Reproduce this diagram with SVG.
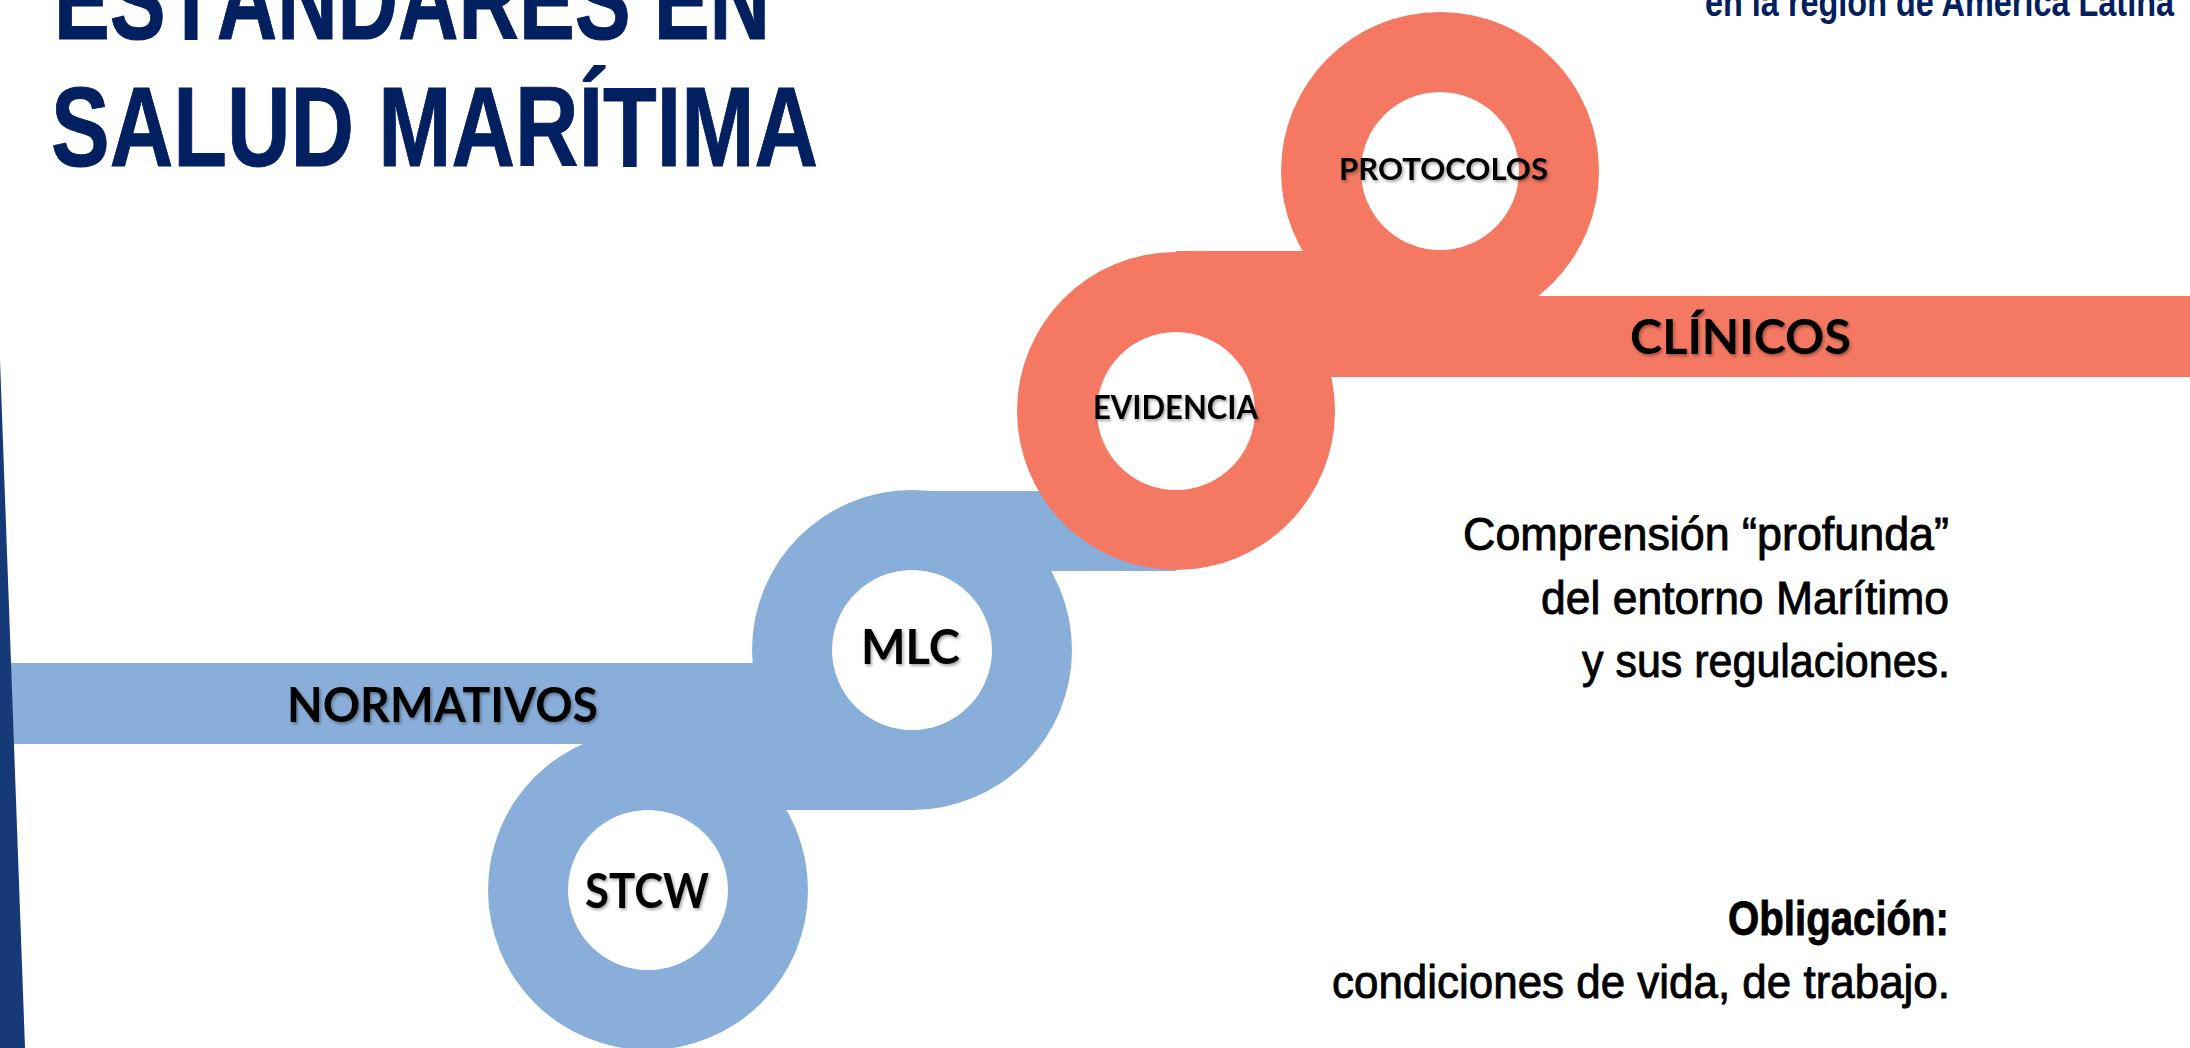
<svg xmlns="http://www.w3.org/2000/svg" width="2190" height="1048" viewBox="0 0 2190 1048">
  <defs>
    <style>
      .blue { fill: #89AED9; }
      .salmon { fill: #F57862; }
      .hole { fill: #FFFFFF; }
      .title { font-family: "Liberation Sans Narrow", "Liberation Sans", Arial, sans-serif; font-weight: 700; fill: #022060; stroke: #022060; stroke-width: 1; }
      .sub { font-family: "Liberation Sans Narrow", "Liberation Sans", Arial, sans-serif; font-weight: 700; fill: #022060; }
      .lbl { font-family: Lato, "Noto Sans", "DejaVu Sans", sans-serif; font-weight: 700; fill: #000000; filter: url(#shadow); }
      .body { font-family: "Liberation Sans Narrow", "Liberation Sans", Arial, sans-serif; fill: #000000; stroke: #000000; stroke-width: 0.9; }
    </style>
    <filter id="shadow" x="-10%" y="-30%" width="120%" height="160%">
      <feDropShadow dx="1.5" dy="2" stdDeviation="1.5" flood-color="#000000" flood-opacity="0.35"/>
    </filter>
  </defs>
  <rect x="0" y="0" width="2190" height="1048" fill="#FFFFFF"/>

  <!-- Title -->
  <g id="title">
    <text class="title" x="54" y="39" font-size="114" textLength="716" lengthAdjust="spacingAndGlyphs">ESTÁNDARES EN</text>
    <text class="title" x="51" y="166" font-size="114" textLength="767" lengthAdjust="spacingAndGlyphs">SALUD MARÍTIMA</text>
  </g>
  <g id="subtitle">
    <text class="sub" x="1705" y="16" font-size="40" textLength="469" lengthAdjust="spacingAndGlyphs">en la región de América Latina</text>
  </g>

  <!-- Connectors (ribbon bands) -->
  <g id="connectors">
    <rect class="blue" x="0" y="663" width="800" height="81"/>
    <rect class="blue" x="648" y="730" width="264" height="80"/>
    <rect class="blue" x="912" y="491" width="264" height="80"/>
    <rect class="salmon" x="1176" y="251" width="264" height="80"/>
    <rect class="salmon" x="1300" y="296" width="890" height="81"/>
  </g>

  <!-- Nodes -->
  <g id="node-stcw">
    <circle class="blue" cx="648" cy="890" r="160"/>
    <circle class="hole" cx="648" cy="890" r="80"/>
    <text class="lbl" x="585" y="908" font-size="47" textLength="124" lengthAdjust="spacingAndGlyphs">STCW</text>
  </g>
  <g id="node-mlc">
    <circle class="blue" cx="912" cy="650" r="160"/>
    <circle class="hole" cx="912" cy="650" r="80"/>
    <text class="lbl" x="861" y="664" font-size="47" textLength="99" lengthAdjust="spacingAndGlyphs">MLC</text>
  </g>
  <g id="node-evidencia">
    <circle class="salmon" cx="1176" cy="411" r="159"/>
    <circle class="hole" cx="1176" cy="411" r="79"/>
    <text class="lbl" x="1093" y="419" font-size="32" textLength="165" lengthAdjust="spacingAndGlyphs">EVIDENCIA</text>
  </g>
  <g id="node-protocolos">
    <circle class="salmon" cx="1440" cy="171" r="159"/>
    <circle class="hole" cx="1440" cy="171" r="79"/>
    <text class="lbl" x="1339" y="180" font-size="31" textLength="209" lengthAdjust="spacingAndGlyphs">PROTOCOLOS</text>
  </g>

  <!-- Band labels -->
  <g id="band-normativos">
    <text class="lbl" x="287" y="722" font-size="47" textLength="311" lengthAdjust="spacingAndGlyphs">NORMATIVOS</text>
  </g>
  <g id="band-clinicos">
    <text class="lbl" x="1630" y="354" font-size="47" textLength="221" lengthAdjust="spacingAndGlyphs">CLÍNICOS</text>
  </g>

  <!-- Left accent bar -->
  <polygon points="-40,360 0,360 25,1048 -40,1048" fill="#163A77"/>

  <!-- Right text -->
  <g id="text-comprension">
    <text class="body" x="1463" y="550" font-size="47" textLength="486" lengthAdjust="spacingAndGlyphs">Comprensión “profunda”</text>
    <text class="body" x="1541" y="614" font-size="47" textLength="408" lengthAdjust="spacingAndGlyphs">del entorno Marítimo</text>
    <text class="body" x="1582" y="677" font-size="47" textLength="368" lengthAdjust="spacingAndGlyphs">y sus regulaciones.</text>
  </g>
  <g id="text-obligacion">
    <text class="body" x="1728" y="935" font-size="49" font-weight="700" textLength="221" lengthAdjust="spacingAndGlyphs">Obligación:</text>
    <text class="body" x="1332" y="998" font-size="47" textLength="618" lengthAdjust="spacingAndGlyphs">condiciones de vida, de trabajo.</text>
  </g>
</svg>
